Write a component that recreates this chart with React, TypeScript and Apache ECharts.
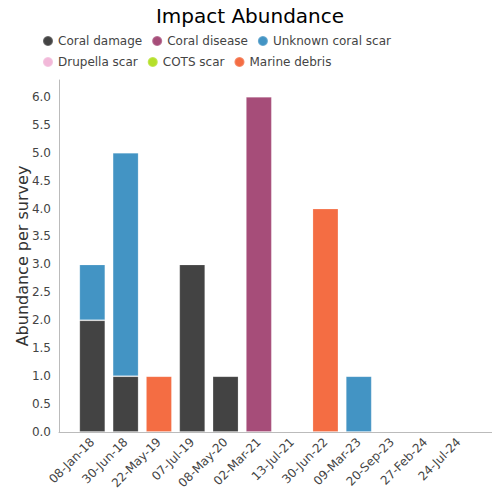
import React, { useEffect, useRef } from "react";
import * as echarts from "echarts";

const categories = ["08-Jan-18", "30-Jun-18", "22-May-19", "07-Jul-19", "08-May-20", "02-Mar-21", "13-Jul-21", "30-Jun-22", "09-Mar-23", "20-Sep-23", "27-Feb-24", "24-Jul-24"];
const seriesNames = ["Coral damage", "Coral disease", "Unknown coral scar", "Drupella scar", "COTS scar", "Marine debris"];
const seriesColors = ["#434343", "#a64d79", "#4394c4", "#f2b8d9", "#b5e02a", "#f46d43"];
const coralDamage = [2, 1, 0, 3, 1, 0, 0, 0, 0, 0, 0, 0];
const coralDisease = [0, 0, 0, 0, 0, 6, 0, 0, 0, 0, 0, 0];
const unknownScar = [1, 4, 0, 0, 0, 0, 0, 0, 1, 0, 0, 0];
const drupellaScar = [0, 0, 0, 0, 0, 0, 0, 0, 0, 0, 0, 0];
const cotsScar = [0, 0, 0, 0, 0, 0, 0, 0, 0, 0, 0, 0];
const marineDebris = [0, 0, 1, 0, 0, 0, 0, 4, 0, 0, 0, 0];
const yTicks = [0, 0.5, 1, 1.5, 2, 2.5, 3, 3.5, 4, 4.5, 5, 5.5, 6];

const FONT = "DejaVu Sans";

export default function App() {
  const ref = useRef<HTMLDivElement>(null);
  useEffect(() => {
    if (!ref.current) return;
    const chart = echarts.init(ref.current, null, { renderer: "svg" });
    const values = [coralDamage, coralDisease, unknownScar, drupellaScar, cotsScar, marineDebris];
    const paddedCats = ["", ...categories, ""];
    chart.setOption({
      animation: false,
      textStyle: { fontFamily: FONT },
      title: {
        text: "Impact Abundance",
        left: "center",
        top: 1,
        textStyle: { fontFamily: FONT, fontSize: 20, fontWeight: "normal", color: "#000" },
      },
      legend: {
        left: 37,
        top: 30,
        width: 370,
        itemWidth: 10,
        itemHeight: 10,
        itemGap: 9,
        icon: "circle",
        textStyle: { fontFamily: FONT, fontSize: 12, color: "#444" },
        data: seriesNames,
      },
      grid: { left: 59, right: 8, top: 80, bottom: 68, containLabel: false },
      xAxis: {
        type: "category",
        data: paddedCats,
        boundaryGap: false,
        axisLine: { lineStyle: { color: "#bbb" } },
        axisTick: { show: false },
        axisLabel: {
          rotate: 45,
          interval: 0,
          fontFamily: FONT,
          fontSize: 12,
          color: "#444",
          margin: 8,
        },
      },
      yAxis: {
        type: "value",
        min: yTicks[0],
        max: 6.3,
        interval: 0.5,
        name: "Abundance per survey",
        nameLocation: "middle",
        nameGap: 29,
        nameMoveOverlap: false,
        nameTextStyle: { fontFamily: FONT, fontSize: 16, color: "#333" },
        axisLine: { show: true, lineStyle: { color: "#bbb" } },
        axisTick: { show: false },
        splitLine: { show: false },
        axisLabel: {
          showMaxLabel: false,
          fontFamily: FONT,
          fontSize: 12,
          color: "#444",
          formatter: (v: number) => v.toFixed(1),
        },
      },
      series: seriesNames.map((name, i) => ({
        name,
        type: "bar",
        stack: "total",
        barWidth: 26,
        itemStyle: {
          color: seriesColors[i],
          borderColor: "rgba(255,255,255,0.2)",
          borderWidth: 1,
        },
        data: [null, ...values[i].map((v) => (v === 0 ? null : v)), null],
      })),
    });
    return () => chart.dispose();
  }, []);
  return <div ref={ref} style={{ width: 500, height: 500, margin: -8 }} />;
}
